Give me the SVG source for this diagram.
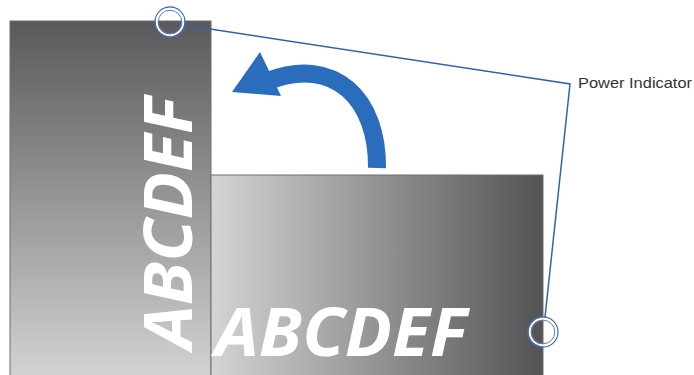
<svg xmlns="http://www.w3.org/2000/svg" width="694" height="375" viewBox="0 0 694 375">
<defs>
<linearGradient id="gv" x1="0" y1="0" x2="0" y2="1">
<stop offset="0" stop-color="#59595b"/>
<stop offset="1" stop-color="#d3d4d6"/>
</linearGradient>
<linearGradient id="gh" x1="0" y1="0" x2="1" y2="0">
<stop offset="0" stop-color="#d3d4d6"/>
<stop offset="1" stop-color="#535355"/>
</linearGradient>
<style>
.panel{stroke:#6e6e70;stroke-width:1}
.big{font-family:"Open Sans","DejaVu Sans",sans-serif;font-weight:bold;font-style:italic;font-size:66px;fill:#ffffff}
.lbl{font-family:"Liberation Sans",Arial,sans-serif;font-size:15px;fill:#333333}
.lead{fill:none;stroke:#2f63ab;stroke-width:1.5;stroke-linejoin:miter}
.ring-o{fill:none;stroke:#4470b4;stroke-width:1.3}
.ring-w{fill:none;stroke:#ffffff;stroke-width:2}
.ring-i{fill:none;stroke:#5a80bb;stroke-width:1}
</style>
</defs>
<rect width="694" height="375" fill="#ffffff"/>
<g id="panel-vertical">
<rect class="panel" x="10" y="21" width="201" height="360" fill="url(#gv)"/>
<text class="big" transform="translate(192,349) rotate(-90)" x="0" y="0" textLength="252" lengthAdjust="spacingAndGlyphs">ABCDEF</text>
</g>
<g id="panel-horizontal">
<rect class="panel" x="211" y="175" width="332" height="206" fill="url(#gh)"/>
<text class="big" x="215" y="356" textLength="252" lengthAdjust="spacingAndGlyphs">ABCDEF</text>
</g>
<g id="rotate-arrow">
<path d="M377,168 C378,100 335,55 268,81" fill="none" stroke="#2b6dbd" stroke-width="18"/>
<polygon points="232,92 260,52 281,96" fill="#2b6dbd"/>
</g>
<g id="indicator-top">
<circle class="ring-o" cx="170" cy="22" r="15"/>
<circle class="ring-w" cx="170" cy="22" r="13.2"/>
<circle class="ring-i" cx="170" cy="22" r="11.8"/>
</g>
<g id="indicator-bottom">
<circle class="ring-o" cx="543" cy="332" r="15"/>
<circle class="ring-w" cx="543" cy="332" r="13.2"/>
<circle class="ring-i" cx="543" cy="332" r="11.8"/>
</g>
<g id="connectors">
<path class="lead" d="M184,25 L570,84 L545,317"/>
</g>
<g id="label">
<text class="lbl" x="578" y="88" textLength="114" lengthAdjust="spacingAndGlyphs">Power Indicator</text>
</g>
</svg>
